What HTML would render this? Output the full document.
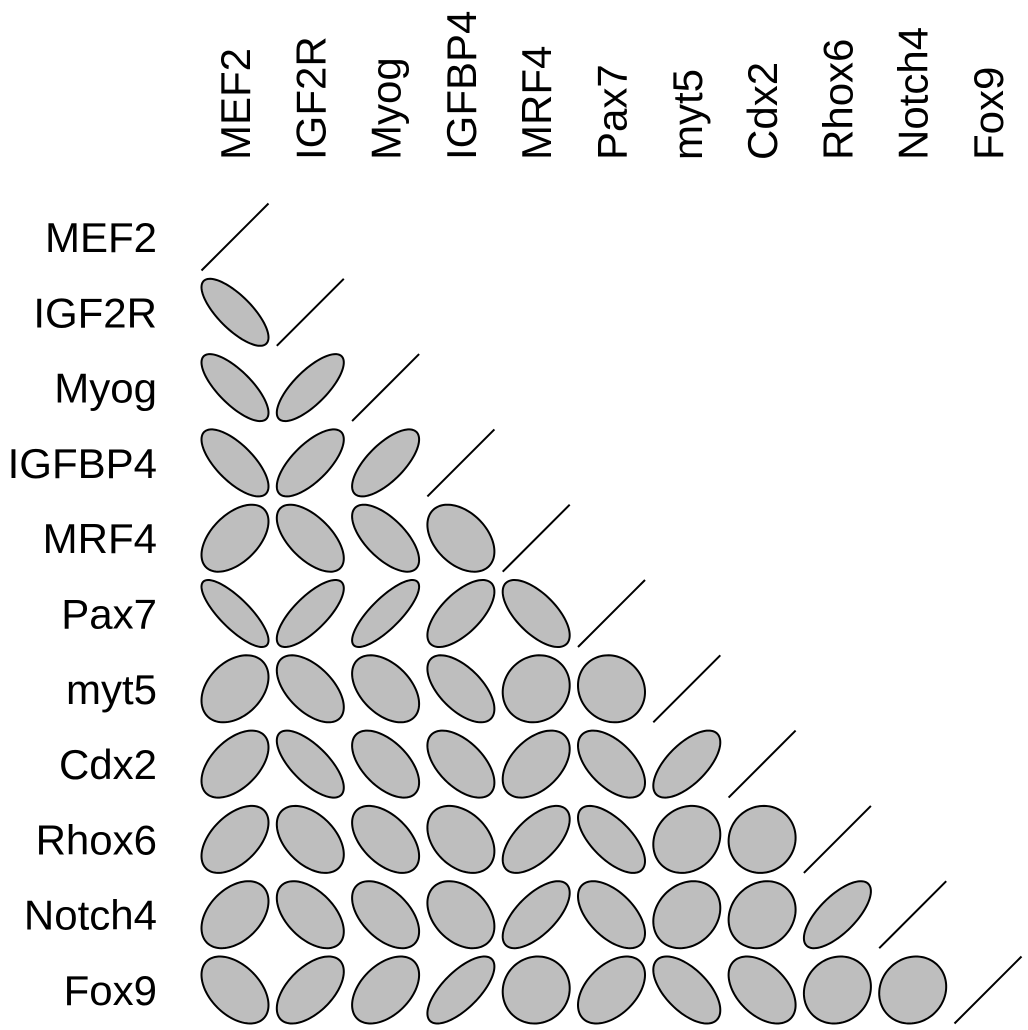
<!DOCTYPE html>
<html><head><meta charset="utf-8"><style>
body{margin:0;background:#fff}
svg{display:block}
text{font-family:"Liberation Sans",Arial,sans-serif;font-size:42px;fill:#000}
</style></head><body>
<svg id="chart" width="1028" height="1030" viewBox="0 0 1028 1030" xmlns="http://www.w3.org/2000/svg"></svg>
<script>
const genes = ["MEF2","IGF2R","Myog","IGFBP4","MRF4","Pax7","myt5","Cdx2","Rhox6","Notch4","Fox9"];
const corrRows = [
  [],
  [-0.75],
  [-0.75, 0.75],
  [-0.7, 0.7, 0.7],
  [0.5, -0.6, -0.65, -0.4],
  [-0.8, 0.75, 0.8, 0.65, -0.65],
  [0.35, -0.55, -0.45, -0.6, 0.1, -0.1],
  [0.5, -0.7, -0.55, -0.55, 0.45, -0.55, 0.65],
  [0.5, -0.45, -0.5, -0.35, 0.6, -0.65, 0.15, 0.05],
  [0.4, -0.5, -0.5, -0.35, 0.65, -0.55, 0.2, 0.15, 0.7],
  [-0.45, 0.55, 0.45, 0.7, 0.05, 0.45, -0.6, -0.45, 0.1, 0.1]
];
const svg = document.getElementById('chart');
const NS = "http://www.w3.org/2000/svg";
const x0 = 235, y0 = 237, step = 75.3, S = 33.5;
const cx = i => x0 + i * step;
const cy = j => y0 + j * step;
genes.forEach((g, i) => {
  const t = document.createElementNS(NS, 'text');
  
  
  t.setAttribute('transform', `translate(${cx(i) + 15},160) rotate(-90)`);
  t.textContent = g;
  svg.appendChild(t);
  const r = document.createElementNS(NS, 'text');
  
  
  r.setAttribute('x', 157);
  r.setAttribute('y', cy(i) + 15);
  r.setAttribute('text-anchor', 'end');
  r.textContent = g;
  svg.appendChild(r);
});
function ellipsePath(r, X, Y) {
  const d = Math.acos(Math.max(-1, Math.min(1, r)));
  let p = '';
  for (let k = 0; k <= 100; k++) {
    const t = k / 100 * 2 * Math.PI;
    const px = X + S * Math.cos(t + d / 2);
    const py = Y - S * Math.cos(t - d / 2);
    p += (k ? 'L' : 'M') + px.toFixed(2) + ',' + py.toFixed(2);
  }
  return p + 'Z';
}
corrRows.forEach((row, j) => {
  row.forEach((r, i) => {
    const e = document.createElementNS(NS, 'path');
    
    
    e.setAttribute('d', ellipsePath(r, cx(i), cy(j)));
    e.setAttribute('fill', '#bebebe');
    e.setAttribute('stroke', '#000');
    e.setAttribute('stroke-width', '2');
    svg.appendChild(e);
  });
});
genes.forEach((g, i) => {
  const l = document.createElementNS(NS, 'line');
  
  
  l.setAttribute('x1', cx(i) - S); l.setAttribute('y1', cy(i) + S);
  l.setAttribute('x2', cx(i) + S); l.setAttribute('y2', cy(i) - S);
  l.setAttribute('stroke', '#000');
  l.setAttribute('stroke-width', '2');
  svg.appendChild(l);
});
</script>
</body></html>
